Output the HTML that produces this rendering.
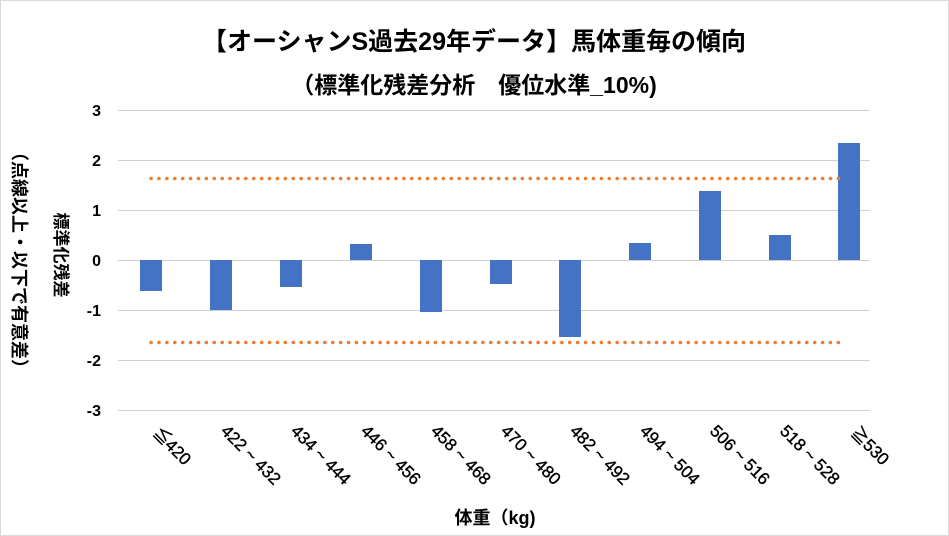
<!DOCTYPE html>
<html><head><meta charset="utf-8"><style>
html,body{margin:0;padding:0;background:#fff}
svg{display:block;font-family:"Liberation Sans","Noto Sans CJK JP",sans-serif}
</style></head><body>
<svg width="949" height="536" viewBox="0 0 949 536" xmlns="http://www.w3.org/2000/svg">
<rect x="0.5" y="0.5" width="948" height="535" fill="#fff" stroke="#d9d9d9"/>
<text x="474" y="50" text-anchor="middle" font-size="25" font-weight="bold" fill="#000">【オーシャンS過去29年データ】馬体重毎の傾向</text>
<text x="474" y="93" text-anchor="middle" font-size="23" font-weight="bold" fill="#000">（標準化残差分析　優位水準_10%)</text>
<g stroke="#d0d0d0" stroke-width="1">
<line x1="118" x2="870" y1="110.5" y2="110.5"/><line x1="118" x2="870" y1="160.5" y2="160.5"/>
<line x1="118" x2="870" y1="210.5" y2="210.5"/><line x1="118" x2="870" y1="260.5" y2="260.5"/>
<line x1="118" x2="870" y1="310.5" y2="310.5"/><line x1="118" x2="870" y1="360.5" y2="360.5"/>
<line x1="118" x2="870" y1="410.5" y2="410.5"/>
</g>
<g font-size="16" font-weight="bold" text-anchor="end" fill="#000">
<text x="101" y="116">3</text><text x="101" y="166">2</text><text x="101" y="216">1</text>
<text x="101" y="266">0</text><text x="101" y="316">-1</text><text x="101" y="366">-2</text><text x="101" y="416">-3</text>
</g>
<g fill="#4472c4">
<rect x="140" y="260" width="22" height="31"/>
<rect x="210" y="260" width="22" height="50"/>
<rect x="280" y="260" width="22" height="27"/>
<rect x="350" y="244" width="22" height="16"/>
<rect x="420" y="260" width="22" height="52"/>
<rect x="490" y="260" width="22" height="24"/>
<rect x="559" y="260" width="22" height="77"/>
<rect x="629" y="243" width="22" height="17"/>
<rect x="699" y="191" width="22" height="69"/>
<rect x="769" y="235" width="22" height="25"/>
<rect x="838" y="143" width="22" height="117"/>
</g>
<g stroke="#ed7d31" stroke-width="3.5" stroke-dasharray="0.1 7.8" stroke-linecap="round">
<line x1="151" x2="845" y1="178.5" y2="178.5"/>
<line x1="151" x2="845" y1="342.5" y2="342.5"/>
</g>
<g font-size="17" fill="#000" stroke="#000" stroke-width="0.4">
<text transform="translate(152,434) rotate(45)">≦420</text>
<text transform="translate(220,432) rotate(45)">422 ~ 432</text>
<text transform="translate(290,432) rotate(45)">434 ~ 444</text>
<text transform="translate(360,432) rotate(45)">446 ~ 456</text>
<text transform="translate(430,432) rotate(45)">458 ~ 468</text>
<text transform="translate(500,432) rotate(45)">470 ~ 480</text>
<text transform="translate(569,432) rotate(45)">482 ~ 492</text>
<text transform="translate(639,432) rotate(45)">494 ~ 504</text>
<text transform="translate(709,432) rotate(45)">506 ~ 516</text>
<text transform="translate(779,432) rotate(45)">518 ~ 528</text>
<text transform="translate(850,434) rotate(45)">≧530</text>
</g>
<text x="495" y="524" text-anchor="middle" font-size="18" font-weight="bold">体重（kg)</text>
<text transform="translate(55,255) rotate(90)" text-anchor="middle" font-size="17" font-weight="bold">標準化残差</text>
<text transform="translate(13,260) rotate(90)" text-anchor="middle" font-size="18" font-weight="bold">（点線以上・以下で有意差）</text>
</svg>
</body></html>
